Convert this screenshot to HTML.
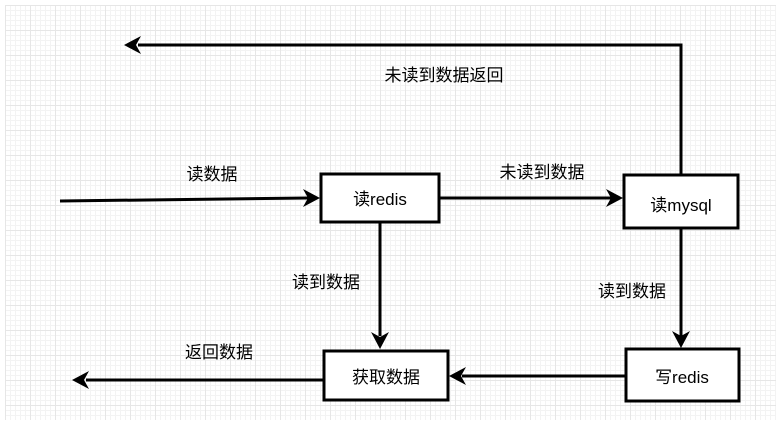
<!DOCTYPE html>
<html><head><meta charset="utf-8"><style>
body{margin:0;width:776px;height:423px;background:#fff;overflow:hidden;position:relative;font-family:"Liberation Sans","Noto Sans CJK SC",sans-serif}
.grid{position:absolute;left:5px;top:5px;width:771px;height:415px;
background-image:linear-gradient(#e6e6e6 1px,transparent 1px),linear-gradient(90deg,#e6e6e6 1px,transparent 1px),linear-gradient(#f3f3f3 1px,transparent 1px),linear-gradient(90deg,#f3f3f3 1px,transparent 1px);
background-size:25px 25px,25px 25px,5px 5px,5px 5px}
svg{position:absolute;left:0;top:0}
</style></head><body>
<div class="grid"></div>
<svg width="776" height="423" font-family="Liberation Sans, Noto Sans CJK SC, sans-serif" font-size="17">
<g fill="#fff" stroke="#000" stroke-width="3">
<rect x="321" y="174" width="118" height="48"/>
<rect x="624" y="175" width="114" height="53"/>
<rect x="626" y="349" width="113" height="52"/>
<rect x="324" y="351" width="124" height="49"/>
</g>
<g stroke="#000" stroke-width="3" fill="none">
<path d="M60 201 L308 198"/>
<path d="M439 198 L612 198"/>
<path d="M681 175 L681 45 L138 45"/>
<path d="M380 222 L380 336"/>
<path d="M681 228 L681 336"/>
<path d="M626 376 L462 376"/>
<path d="M324 380 L86 380"/>
</g>
<g fill="#000">
<path d="M320 198 L303 189 L308 198 L303 207Z"/>
<path d="M623 198 L606 189 L611 198 L606 207Z"/>
<path d="M124 45 L141 36 L136 45 L141 54Z"/>
<path d="M380 349 L371 332 L380 337 L389 332Z"/>
<path d="M681 348 L672 331 L681 336 L690 331Z"/>
<path d="M449 376 L466 367 L461 376 L466 385Z"/>
<path d="M72 380 L89 371 L84 380 L89 389Z"/>
</g>
<g fill="#000" text-anchor="middle">
<text x="380" y="205">读redis</text>
<text x="681" y="211">读mysql</text>
<text x="682" y="383">写redis</text>
<text x="386" y="383">获取数据</text>
<text x="212" y="180">读数据</text>
<text x="542" y="178">未读到数据</text>
<text x="444" y="81">未读到数据返回</text>
<text x="326" y="288">读到数据</text>
<text x="632" y="297">读到数据</text>
<text x="219" y="358">返回数据</text>
</g>
</svg>
</body></html>
